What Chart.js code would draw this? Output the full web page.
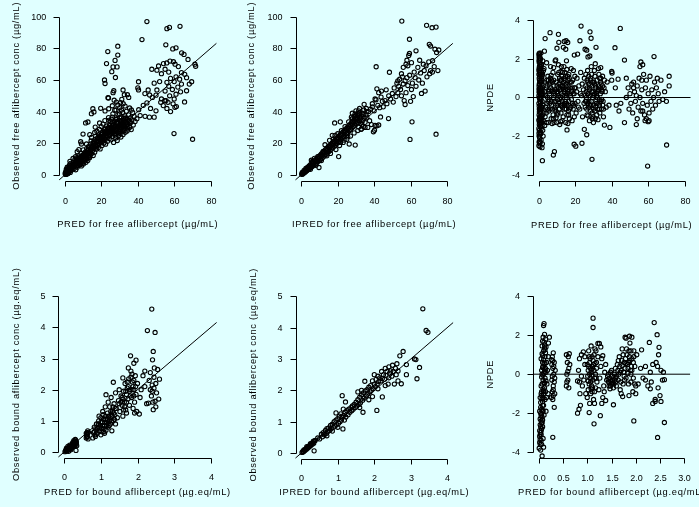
<!DOCTYPE html>
<html>
<head>
<meta charset="utf-8">
<script src="https://cdn.jsdelivr.net/npm/chart.js@4.4.1/dist/chart.umd.min.js"></script>
<style>
  body { margin: 0; background: #e0ffff; }
  #wrap { position: relative; width: 699px; height: 507px; }
  canvas { position: absolute; left: 0; top: 0; }
</style>
</head>
<body>
<div id="wrap">
  <canvas id="p1" width="699" height="507"></canvas>
  <canvas id="p2" width="699" height="507"></canvas>
  <canvas id="p3" width="699" height="507"></canvas>
  <canvas id="p4" width="699" height="507"></canvas>
  <canvas id="p5" width="699" height="507"></canvas>
  <canvas id="p6" width="699" height="507"></canvas>
</div>
<script>
// ---- data ----
// free aflibercept: PRED vs observed
const freePredObs = [
  [0.2,0.3],[0.3,0.8],[0.5,0.2],[0.6,1.2],[0.8,0.5],[0.9,1.8],[1.0,2.6],[1.1,0.9],[1.3,1.5],[1.4,3.2],[1.5,0.6],[1.6,2.2],[1.8,4.1],[1.9,1.2],[2.0,2.9],[2.1,5.0],[2.2,1.8],[2.4,3.6],[2.5,6.2],[2.6,2.4],[2.8,4.4],[2.9,1.5],[3.0,3.1],[0.4,2.0],[0.7,3.5],[1.2,4.8],[0.1,1.0],[3.1,7.2],[3.2,5.3],[2.7,8.5],
  [3.5,2.8],[3.8,4.6],[4.0,6.5],[4.2,3.5],[4.5,8.0],[4.7,5.2],[5.0,4.0],[5.2,7.1],[5.4,9.5],[5.6,5.8],[5.9,3.2],[6.1,8.4],[6.3,6.2],[6.5,10.8],[6.7,4.8],[6.9,7.6],[7.1,9.2],[7.3,5.9],[7.5,12.0],[7.7,8.1],[7.9,6.6],[6.7,14.6],[5.8,11.5],[4.4,10.3],
  [8.1,9.8],[8.3,6.4],[8.5,11.2],[8.6,7.8],[8.8,13.5],[9.0,5.6],[9.1,9.0],[9.3,10.6],[9.5,7.2],[9.6,12.4],[9.8,8.3],[10.0,15.8],[10.1,6.8],[10.3,10.1],[10.5,11.9],[10.7,8.8],[10.9,14.2],[11.1,9.6],[11.3,12.8],[11.5,7.9],[11.7,11.0],[11.9,16.6],[12.1,10.2],[12.3,13.4],[12.5,9.1],[12.7,12.0],[12.9,17.8],[13.0,11.3],[8.6,20.9],[9.9,25.8],[11.3,32.8],[12.6,33.4],[9.0,19.5],[11.8,19.5],[7.6,15.9],
  [13.3,14.5],[13.5,10.8],[13.7,18.2],[13.9,12.6],[14.1,16.0],[14.3,21.4],[14.5,13.3],[14.7,17.5],[14.5,23.7],[15.1,15.2],[15.4,19.5],[15.5,12.2],[15.7,20.8],[16.3,26.8],[16.1,17.0],[16.3,14.3],[16.5,22.2],[16.7,18.8],[16.9,24.5],[17.1,16.2],[17.3,20.4],[17.5,27.6],[17.7,19.0],[17.9,23.0],[14.5,38.7],[15.9,39.8],[15.3,41.8],[13.6,25.4],[16.6,30.2],
  [18.1,21.5],[18.3,17.2],[18.5,25.3],[18.7,19.6],[18.9,28.8],[19.1,22.7],[19.3,16.4],[19.5,24.1],[19.6,42.1],[19.7,20.3],[19.9,30.5],[20.1,23.4],[20.3,18.6],[20.5,26.7],[20.7,21.9],[20.9,32.1],[21.1,24.8],[21.3,20.0],[21.5,28.4],[21.7,22.6],[21.9,34.3],[22.1,25.9],[22.3,19.4],[22.5,27.2],[22.7,23.8],[22.9,30.9],[23.1,26.3],[23.3,21.2],[23.5,29.5],[23.7,24.5],[23.9,36.2],[24.1,27.8],[24.3,22.9],[24.5,31.6],[24.7,25.7],[24.9,33.8],[23.6,48.8],[22.0,40.4],[19.0,32.8],[24.0,41.8],
  [25.1,28.5],[25.3,22.1],[25.5,35.2],[25.7,26.0],[25.9,31.3],[26.1,24.2],[26.3,38.6],[26.4,52.0],[26.5,29.1],[26.7,20.5],[26.9,33.4],[27.1,27.2],[27.3,40.9],[27.5,25.1],[27.7,30.6],[27.9,23.3],[28.1,36.0],[28.3,28.0],[28.5,32.7],[28.7,21.7],[28.9,26.6],[29.1,38.1],[29.3,30.0],[29.5,24.8],[29.7,34.5],[29.9,28.9],[30.1,42.5],[30.3,26.1],[30.5,31.8],[30.7,23.9],[30.9,36.7],[31.1,29.6],[31.3,33.1],[31.5,27.3],[31.7,39.4],[31.9,53.7],[31.9,25.5],[32.1,31.0],[32.3,35.8],[32.5,28.2],[32.6,50.7],[32.7,30.3],[32.9,37.3],[33.1,26.9],[33.3,33.9],[33.5,29.4],[33.7,40.2],[33.9,31.5],[34.1,27.7],[34.3,35.0],[34.3,50.7],[34.5,32.2],[34.7,29.0],[34.9,37.9],[35.0,49.0],[35.3,33.6],[35.6,30.1],[36.0,36.1],[36.4,28.6],[36.8,34.7],[37.2,39.5],[38.0,36.9],[28.2,46.0],[29.0,44.2],[30.5,45.6],[31.2,47.8],[33.0,43.5],[26.0,43.7],[27.0,47.2],[32.0,45.0],[35.5,42.3],[36.5,41.0],[37.5,31.5],[38.5,33.8],[39.5,35.5],[40.0,55.0],[40.4,58.9],[40.4,53.7],
  [20.0,25.5],[21.0,27.5],[22.0,29.0],[23.0,28.0],[24.0,30.0],[25.0,26.5],[26.0,33.0],[27.0,30.0],[28.0,31.0],[29.0,33.0],[30.0,30.0],[31.0,34.0],[32.0,33.0],[33.0,31.0],[34.0,33.0],[26.5,27.0],[28.5,29.5],[30.5,28.5],[32.5,31.5],[29.5,27.0],[31.5,30.5],[27.5,34.0],[25.5,30.0],[24.5,27.0],[23.0,25.0],[22.0,22.0],[21.0,23.5],[19.0,24.5],[18.0,23.5],[17.0,21.5],[16.0,20.0],[15.0,18.0],[14.0,19.5],[13.0,16.0],[12.0,14.5],[11.0,13.5],[10.0,12.0],[9.0,11.5],[8.0,10.5],[7.0,10.0],[6.0,7.0],[5.0,6.5],[4.0,5.0],[3.0,4.8],[2.0,3.8],[1.0,1.5],[0.5,0.9],[30.0,38.5],[28.0,41.0],[33.5,36.0],[35.0,34.5],[36.0,33.0],[31.0,41.0],[26.0,36.5],[24.0,34.5],
  [1.5,1.8],[2.5,3.5],[3.5,4.0],[4.5,6.0],[5.5,7.5],[6.5,8.0],[7.5,9.5],[8.5,9.0],[9.5,10.5],[10.5,13.0],[11.5,12.5],[12.5,15.5],[13.5,14.0],[14.5,17.0],[15.5,16.5],[16.5,19.0],[17.5,18.0],[18.5,21.0],[19.5,22.0],[20.5,21.0],[21.5,25.0],[22.5,24.5],[23.5,27.0],[24.5,25.0],[25.5,28.0],[26.5,31.5],[27.5,28.5],[28.5,33.5],[29.5,31.0],[30.5,34.0],[31.5,32.0],[32.5,34.5],[33.5,33.0],[34.5,30.5],[28.0,26.0],[30.0,27.5],[32.0,29.0],[26.0,29.0],[27.0,26.0],[29.0,29.5],[31.0,31.5],[33.0,35.5],[28.0,35.0],[30.0,36.0],[24.0,29.0],[22.0,26.5],[20.0,22.5],[18.0,19.0],[16.0,18.0],[14.0,15.0],[12.0,12.0],[10.0,10.0],[8.0,8.5],[6.0,9.0],
  [45.0,97.0],[42.3,85.6],[29.0,81.4],[23.5,78.0],[29.0,75.8],[27.5,72.4],[22.8,70.4],[26.4,68.3],[28.6,68.3],[25.7,65.3],[27.7,61.6],[21.7,60.0],[22.0,57.8],[26.8,53.2],[23.9,48.6],
  [56.0,92.5],[57.4,93.3],[63.2,94.0],[55.4,82.3],[59.2,79.7],[61.0,80.4],[64.1,77.2],[65.4,76.2],[67.6,73.0],[57.7,72.0],[54.1,70.4],[55.9,70.8],[59.6,71.6],[60.5,70.0],[62.3,68.5],[71.4,70.0],[71.8,68.7],[51.4,68.9],[47.7,66.8],[50.5,66.2],[55.0,66.8],[57.0,65.0],[53.0,64.0],[64.0,64.7],[65.8,63.6],[66.8,61.5],[61.0,62.0],[63.0,60.5],[58.0,61.0],[60.0,59.0],[56.0,58.5],[52.0,59.0],[49.0,58.0],[64.0,57.4],[69.6,58.9],[66.8,53.2],[68.3,57.4],[62.0,55.5],[59.0,54.0],[57.0,56.0],[55.0,53.0],[50.5,53.7],[45.7,53.7],[43.9,51.4],[46.5,50.5],[48.0,49.0],[50.0,50.4],[53.0,48.0],[55.5,47.0],[52.6,45.9],[54.8,46.9],[56.6,45.9],[59.4,44.9],[61.2,43.2],[65.7,46.1],[60.4,42.7],[54.0,43.8],[56.0,42.0],[58.0,40.0],[50.0,40.5],[61.0,51.0],[63.5,52.5],[59.9,26.1],[70.1,22.5],[49.0,36.5],[46.4,36.5],[44.0,37.0],[41.3,37.5],[40.5,41.2],[43.0,44.0],[45.0,45.5],[47.0,42.0],[57.5,50.0],[60.0,48.0]
];
// free aflibercept: IPRED vs observed
const freeIpredObs = [
  [0.2,0.3],[0.4,0.7],[0.6,0.4],[0.8,1.1],[1.0,0.8],[1.2,1.6],[1.4,1.2],[1.6,2.0],[1.8,1.5],[2.0,2.5],[2.2,1.9],[2.4,3.0],[2.6,2.2],[2.8,3.4],[3.0,2.7],[0.5,1.5],[1.5,2.8],[2.5,4.0],[3.2,4.3],[3.4,3.1],
  [3.6,4.9],[3.8,3.3],[4.0,4.4],[4.3,5.6],[4.5,3.9],[4.8,5.1],[5.0,6.4],[5.3,4.6],[5.5,5.9],[5.8,7.3],[6.0,5.3],[6.3,6.8],[6.5,8.1],[6.8,6.0],[7.0,7.6],[7.3,9.0],[7.5,6.7],[7.8,8.3],[8.0,9.8],[8.3,7.4],[8.5,9.1],[8.8,10.6],[9.0,8.2],[9.3,9.9],[9.5,11.4],[9.7,4.6],[9.8,8.9],[10.0,10.8],[5.5,9.2],[7.2,10.4],
  [10.3,12.3],[10.5,9.6],[10.8,11.5],[11.0,13.2],[11.3,10.4],[11.5,12.4],[11.8,14.1],[12.0,11.2],[12.3,13.3],[12.5,15.0],[12.8,12.0],[13.0,14.2],[13.3,15.9],[13.5,12.9],[13.8,15.1],[14.0,16.8],[14.3,13.8],[14.5,16.0],[14.8,17.6],[15.0,14.6],[15.3,16.9],[15.5,18.5],[15.8,15.4],[16.0,17.7],[16.3,19.4],[16.5,16.3],[16.8,18.6],[17.0,25.0],[17.0,20.2],[17.3,17.1],[17.5,19.5],[17.8,21.1],[18.0,18.0],[18.3,20.4],[18.3,32.8],[18.5,22.0],[18.8,18.9],[19.0,21.2],[19.3,22.9],[19.5,19.8],[19.8,22.1],[20.0,23.8],[20.5,11.5],[18.5,25.0],[15.5,21.8],[13.0,19.0],
  [20.3,20.7],[20.5,23.0],[20.8,24.6],[21.0,21.6],[21.3,23.9],[21.4,33.5],[21.5,25.5],[21.8,22.5],[22.0,24.8],[22.3,26.4],[22.5,23.4],[22.8,25.7],[23.0,27.3],[23.3,24.3],[23.5,26.6],[23.8,28.2],[24.0,25.2],[24.3,27.5],[24.5,29.1],[24.8,26.1],[25.0,28.4],[25.3,30.0],[25.5,27.0],[25.8,29.3],[26.0,31.0],[26.3,19.5],[26.3,27.9],[26.5,30.2],[26.8,31.9],[27.0,28.8],[27.3,31.1],[27.5,32.8],[27.8,29.7],[28.0,32.0],[28.3,33.8],[28.5,30.6],[28.8,32.9],[29.0,34.7],[29.3,31.5],[29.6,18.8],[29.5,33.8],[29.8,35.6],[30.0,32.4],[30.3,34.7],[30.5,36.5],[30.8,33.3],[31.0,38.7],[31.0,35.6],[31.3,37.4],[31.5,30.2],[31.8,34.2],[32.0,36.5],[32.3,32.6],[32.5,35.4],[32.8,28.8],[33.0,37.2],[33.3,31.6],[33.5,39.0],[33.8,34.4],[34.0,30.6],[34.3,41.0],[34.5,36.0],[35.0,33.2],[35.5,38.0],[28.0,39.0],[29.0,37.0],[30.0,40.5],[32.0,42.0],[34.5,44.6],[35.7,42.0],[36.0,36.5],[36.5,30.0],[37.0,40.0],[37.5,34.2],[38.0,41.5],[38.5,31.8],[39.0,43.0],[39.6,27.2],[40.2,28.2],[40.5,31.2],[41.5,31.0],[42.5,31.5],
  [5.0,3.5],[6.0,8.5],[8.0,6.0],[9.0,11.5],[11.0,9.0],[12.0,14.8],[14.0,12.0],[15.0,18.0],[16.0,13.5],[17.5,22.5],[19.0,16.0],[20.0,26.0],[21.0,18.5],[22.0,28.0],[23.0,20.5],[24.0,30.5],[25.0,22.5],[26.0,33.5],[27.0,24.5],[28.0,35.5],[29.0,26.5],[30.0,37.5],[31.0,28.0],[32.0,39.0],[33.0,29.0],[34.0,38.0],[35.0,30.0],[36.0,40.0],[27.5,36.5],[29.5,38.5],[31.5,40.5],[25.5,24.0],[23.5,22.0],[21.5,20.5],
  [39.0,45.0],[40.0,40.5],[41.0,47.5],[41.5,54.4],[41.1,68.4],[42.0,44.0],[43.0,42.5],[43.8,49.2],[44.5,46.5],[45.0,43.0],[46.0,47.0],[46.6,53.8],[47.0,45.0],[47.9,35.6],[48.4,64.9],[48.0,50.0],[49.0,48.0],[50.0,51.5],[43.5,36.6],[40.5,48.0],[42.5,52.0],[44.0,53.0],
  [50.5,46.0],[51.0,55.0],[52.0,49.5],[52.5,58.0],[53.0,52.0],[53.5,56.0],[54.0,60.5],[54.5,54.0],[55.0,50.0],[55.2,97.3],[55.5,62.0],[56.0,57.5],[56.5,47.0],[57.0,59.5],[57.5,52.0],[58.0,61.5],[58.5,56.5],[59.4,85.8],[59.4,76.8],[59.0,75.5],[59.7,22.4],[60.8,33.5],[60.0,46.5],[59.5,63.0],[61.0,58.0],[61.5,49.5],[62.0,65.0],[63.0,78.5],[57.5,70.0],[58.5,69.0],[60.5,71.0],[56.0,68.0],[58.0,72.5],[53.0,59.5],[55.0,64.0],[57.0,44.5],[60.5,54.0],
  [63.0,56.0],[64.0,68.0],[64.5,60.0],[65.0,72.5],[65.5,64.5],[66.0,51.5],[67.0,70.0],[67.5,66.0],[68.0,53.0],[68.5,69.0],[68.8,94.6],[69.0,62.0],[70.0,71.5],[70.3,82.6],[71.0,81.5],[71.0,66.0],[71.8,93.1],[72.0,65.0],[72.1,72.2],[73.0,68.5],[73.4,79.5],[74.0,93.5],[74.0,25.7],[74.3,77.4],[75.0,66.0],[75.5,79.0],[66.5,58.0],[62.5,61.5],[70.5,64.0]
];
// free aflibercept: PRED vs NPDE
const freePredNpde = [
  [0.1,-2.5],[0.2,-2.0],[0.3,-1.7],[0.4,-1.3],[0.2,-0.9],[0.5,-0.6],[0.1,-0.3],[0.3,0.0],[0.6,0.3],[0.2,0.6],[0.4,0.9],[0.1,1.2],[0.5,1.5],[0.3,1.8],[0.2,2.1],[0.4,2.3],[0.8,-2.3],[0.9,-1.9],[1.0,-1.5],[0.7,-1.1],[1.1,-0.8],[0.8,-0.4],[1.2,-0.1],[0.9,0.2],[1.0,0.5],[0.7,0.8],[1.3,1.1],[0.8,1.4],[1.1,1.7],[1.0,2.0],[1.4,-1.6],[1.6,-1.2],[1.5,-0.5],[1.7,0.1],[1.4,0.4],[1.8,0.7],[1.5,1.0],[1.6,1.3],[1.9,-0.2],[2.0,-0.9],[2.1,0.5],[2.2,1.9],[1.8,-2.6],[2.0,-2.4],[1.3,-2.2],[0.6,-1.8],[0.3,-1.4],[0.6,-0.2],[0.4,0.4],[0.5,1.1],[0.7,1.6],[1.2,2.3],[0.9,-1.0],[1.1,0.0],[1.7,-0.6],[2.3,-0.4],[2.4,0.2],[2.5,-1.2],[2.6,1.4],[2.8,-0.8],[0.7,-2.55],[2.0,-3.27],[0.2,1.5],[0.5,-2.1],
  [0.15,-1.15],[0.35,-0.75],[0.25,-0.45],[0.45,-0.05],[0.35,0.25],[0.15,0.45],[0.55,0.7],[0.25,1.0],[0.45,1.3],[0.35,1.6],[0.15,1.9],[0.6,2.1],[0.15,-1.85],[0.45,-2.3],[0.85,-1.35],[0.95,-0.6],[1.05,-0.25],[1.25,0.3],[1.15,0.8],[0.95,1.2],[1.35,1.5],[1.45,-0.95],[1.25,-1.85],[1.65,0.45],[1.85,-1.45],[1.55,1.7],[2.2,-1.7],[2.4,-2.0],[2.1,1.2],[1.9,0.3],
  [0.1,-1.6],[0.2,-1.2],[0.3,-0.6],[0.1,0.1],[0.2,0.3],[0.3,0.7],[0.1,1.4],[0.3,2.0],[0.5,-1.0],[0.6,0.0],[0.7,0.5],[0.6,1.3],[0.8,1.8],[0.9,-0.7],[1.0,-1.2],[1.1,0.3],[1.2,0.9],[1.3,-0.5],[1.4,-1.3],[1.5,0.2],[1.6,0.8],[1.7,-1.0],[1.8,1.1],[1.9,-0.5],[2.0,0.1],[0.4,-2.0],[0.2,-2.3],[0.6,-2.4],[0.3,2.2],[0.1,2.25],
  [3.1,2.4],[3.5,3.05],[6.2,3.36],[10.8,3.27],[11.0,2.86],[15.0,2.94],[15.9,2.85],[22.6,2.94],[23.2,3.7],[28.1,3.4],[28.7,3.07],[31.4,2.6],[41.8,2.58],[44.7,3.58],[25.4,2.5],[26.3,2.45],[10.0,2.55],[13.5,2.6],[14.8,2.5],[19.5,2.2],[21.3,2.25],[27.0,2.1],[28.0,2.15],[63.2,2.12],[47.0,1.94],[56.0,1.84],[57.0,1.7],[55.5,1.6],
  [8.6,-2.8],[8.0,-2.98],[19.4,-2.42],[20.3,-2.52],[23.7,-2.37],[26.3,-1.93],[25.0,-1.65],[29.2,-3.2],[59.7,-3.55],[70.1,-2.46],[36.0,-1.43],[39.0,-1.55],[15.5,-1.68],[47.0,-1.3],[53.5,-1.4],[60.0,-1.25],[59.0,-1.1],
  [3.5,-1.0],[4.0,0.5],[4.5,-0.3],[5.0,1.1],[5.5,-0.7],[6.0,0.2],[6.5,1.6],[7.0,-0.4],[7.5,0.8],[8.0,-1.1],[8.5,0.3],[9.0,1.9],[9.5,-0.2],[10.0,0.6],[10.5,-0.8],[11.0,1.3],[11.5,-1.4],[12.0,0.0],[12.5,0.9],[13.0,-0.5],[13.5,0.4],[14.0,1.0],[14.5,-0.2],[15.0,0.7],[15.5,-0.9],[16.0,0.3],[16.5,1.2],[17.0,-0.6],[17.5,0.1],[18.0,0.8],[18.5,-0.3],[19.0,1.4],[19.5,-1.0],[20.0,0.5],[4.3,1.8],[5.2,-1.3],[6.8,-1.1],[7.8,1.3],[8.8,-0.6],[9.8,-1.3],[10.8,1.7],[11.8,0.4],[12.8,-1.2],[13.8,1.6],[14.8,-1.3],[15.8,1.1],[16.8,-1.1],[17.8,1.5],[18.8,0.2],[12.2,-0.8],[13.2,0.6],[14.2,-0.6],[15.2,0.1],[16.2,-0.4],[14.5,0.9],[13.0,1.3],[15.0,-0.4],[11.0,-0.3],[10.2,0.2],[9.0,-0.5],[8.2,0.9],[7.2,0.3],[6.2,-0.6],[5.8,0.7],[4.8,0.0],[3.8,-0.5],[3.2,0.8],[2.9,1.5],[20.5,-0.8],[21.0,1.0],[21.5,-0.2],[22.0,0.6],[22.5,-0.6],[23.0,1.3],[23.5,0.1],[24.0,-1.0],[24.5,0.4],[25.0,1.0],[9.3,1.95],[8.2,1.55],[6.8,1.15],[14.0,2.9],[15.2,1.9],[12.2,1.35],[7.3,-1.35],[9.5,-1.05],
  [3.4,0.3],[4.1,-0.8],[4.6,0.6],[5.1,-0.2],[5.6,0.4],[6.1,-0.3],[6.6,0.5],[7.1,0.9],[7.6,-0.6],[8.1,0.0],[8.6,-0.2],[9.1,0.4],[9.6,0.8],[10.1,-0.4],[10.6,0.3],[11.1,0.7],[11.6,-0.1],[12.1,0.6],[12.6,-0.4],[13.1,0.1],[13.6,0.8],[14.1,-0.3],[14.6,0.4],[15.1,-0.6],[15.6,0.2],[16.1,0.9],[16.6,-0.2],[17.1,0.5],[17.6,-0.5],[18.1,0.3],[18.6,0.9],[19.1,-0.4],[19.6,0.5],[13.4,-1.0],[14.3,1.3],[15.4,1.45],[16.4,-0.9],[11.4,1.0],[12.4,1.6],[10.4,1.2],[8.4,-1.3],[6.4,1.0],[5.4,0.9],[4.2,-1.3],[3.3,-1.45],[12.0,-1.25],[16.0,-1.35],[18.3,-1.2],[19.8,1.1],[20.8,0.3],[21.8,-0.5],[22.8,0.2],[23.8,0.7],[24.8,-0.3],
  [3.7,0.1],[4.4,0.9],[4.9,-0.6],[5.3,0.3],[5.7,-0.1],[6.3,0.8],[6.9,-0.2],[7.4,0.4],[7.9,-0.9],[8.3,0.6],[8.9,0.1],[9.4,-0.7],[9.9,0.3],[10.3,-0.1],[10.9,0.5],[11.3,-0.6],[11.9,0.9],[12.3,0.2],[12.9,-0.2],[13.3,0.5],[13.9,-0.4],[14.4,0.1],[14.9,0.6],[15.3,-0.3],[15.9,0.4],[16.3,-0.7],[16.9,0.2],[17.3,0.8],[17.9,-0.1],[18.4,0.5],[18.9,-0.6],[19.4,0.2],[19.9,-0.3],[14.0,0.3],[15.0,0.0],[16.0,0.6],[13.0,0.6],[12.0,-0.4],[11.0,0.1],[10.0,-0.9],[14.7,1.1],[16.7,1.0],[12.7,1.1],
  [25.5,-0.5],[26.0,0.3],[26.5,-0.9],[27.0,0.8],[27.5,-0.2],[28.0,0.5],[28.5,-0.7],[29.0,1.2],[29.5,0.0],[30.0,-0.4],[30.5,0.7],[31.0,-1.1],[31.5,0.2],[32.0,0.9],[32.5,-0.3],[33.0,0.4],[33.5,-0.8],[34.0,1.0],[34.5,-0.1],[35.0,0.6],[35.5,-0.6],[26.2,-0.2],[27.2,0.2],[28.2,-0.4],[29.2,0.6],[30.2,0.1],[31.2,-0.5],[32.2,0.3],[33.2,-0.1],[34.2,0.7],[30.8,1.1],[29.8,-1.0],[31.8,-0.9],[33.8,0.2],[32.8,1.5],[28.8,1.6],[27.8,-1.2],[26.8,1.4],[36.5,0.3],[37.0,-0.5],[37.5,0.8],[38.5,-0.4],[40.0,0.9],[40.2,1.27],[40.0,1.35],[42.0,0.5],[42.5,-0.4],[43.5,0.95],[45.0,-0.3],[44.0,-0.7],[31.0,1.75],[34.0,1.55],[25.8,1.2],[35.5,-1.0],[36.0,0.9],
  [25.3,0.1],[25.8,0.6],[26.3,-0.6],[26.8,0.2],[27.3,-0.5],[27.8,0.4],[28.3,0.9],[28.8,-0.2],[29.3,-0.8],[29.8,0.3],[30.3,0.8],[30.8,-0.7],[31.3,0.5],[31.8,0.1],[32.3,-0.6],[32.8,0.6],[33.3,-0.4],[33.8,0.8],[34.3,-0.6],[34.8,0.3],[35.3,-0.2],[35.8,0.5],[30.0,-1.3],[32.5,-1.15],[27.0,-0.95],[33.0,1.2],[35.0,1.1],[28.5,1.0],[30.5,1.4],[26.5,0.9],
  [25.6,-0.2],[26.1,0.0],[26.6,0.5],[27.1,-0.3],[27.6,0.7],[28.1,0.1],[28.6,-0.4],[29.1,0.3],[29.6,0.8],[30.1,-0.6],[30.6,0.2],[31.1,0.6],[31.6,-0.3],[32.1,0.0],[32.6,0.4],[33.1,-0.6],[33.6,0.5],[34.1,-0.2],[34.6,0.4],[35.1,-0.4],[27.4,1.1],[29.4,-1.1],[31.4,-0.2],[33.4,1.0],
  [48.0,0.0],[49.0,0.5],[49.5,-0.6],[50.0,0.2],[50.5,-0.3],[51.0,0.7],[51.5,-0.8],[52.0,0.8],[52.5,0.3],[53.0,-0.2],[53.5,0.1],[54.0,0.6],[54.5,-0.5],[55.0,1.0],[55.5,0.0],[56.0,-0.7],[56.5,0.4],[57.0,-0.3],[57.5,1.2],[58.0,-0.9],[58.5,0.5],[59.0,0.9],[59.5,-0.4],[60.0,0.2],[60.5,-0.8],[61.0,1.1],[61.5,-0.2],[62.0,0.4],[62.5,-0.6],[63.0,0.0],[63.5,0.8],[64.0,-0.4],[65.0,1.0],[65.5,0.2],[66.0,-0.2],[67.0,0.9],[68.0,-0.1],[69.0,0.3],[70.0,-0.2],[71.5,0.6],[71.5,1.1],[54.0,-1.1],[57.0,-0.7],[58.3,-1.2],[60.5,-1.2],[48.0,1.0],[52.0,0.5],[56.5,0.9],[64.5,0.5]
];
// bound aflibercept: PRED vs observed
const boundPredObs = [
  [0.02,0.01],[0.04,0.05],[0.05,0.02],[0.07,0.08],[0.08,0.04],[0.1,0.1],[0.11,0.06],[0.12,0.13],[0.14,0.09],[0.15,0.16],[0.16,0.11],[0.18,0.19],[0.19,0.14],[0.2,0.22],[0.21,0.17],[0.22,0.25],[0.24,0.2],[0.25,0.28],[0.26,0.23],[0.27,0.32],[0.28,0.26],[0.29,0.35],[0.3,0.29],[0.31,0.38],[0.32,0.24],[0.33,0.33],[0.3,0.4],[0.26,0.36],[0.23,0.3],[0.2,0.12],[0.15,0.22],[0.1,0.18],[0.06,0.12],[0.32,0.05],[0.28,0.18],[0.34,0.2],[0.18,0.07],[0.12,0.02],
  [0.05,0.07],[0.09,0.11],[0.13,0.15],[0.17,0.14],[0.21,0.21],[0.25,0.2],[0.29,0.31],[0.33,0.28],
  [0.6,0.45],[0.61,0.55],[0.62,0.62],[0.63,0.5],[0.64,0.68],[0.6,0.6],[0.65,0.42],[0.62,0.48],[0.63,0.58],[0.66,0.63],
  [0.78,0.45],[0.8,0.62],[0.82,0.8],[0.84,0.55],[0.86,0.72],[0.88,0.9],[0.9,0.6],[0.92,0.78],[0.94,1.0],[0.96,0.68],[0.98,0.86],[1.0,1.1],[1.0,0.55],[1.02,0.75],[1.04,0.95],[1.06,1.2],[1.08,0.65],[1.1,0.85],[1.12,1.05],[1.14,1.84],[1.14,0.7],[1.16,0.95],[1.18,1.25],[1.2,0.8],[1.22,1.0],[1.24,1.45],[1.26,0.9],[1.28,1.15],[1.3,0.68],[1.32,1.3],[1.34,2.24],[1.34,1.0],[1.36,1.55],[1.38,1.2],[1.4,1.9],[1.4,0.9],[1.05,1.3],[1.12,1.45],[1.2,1.6],[1.28,1.75],[0.95,1.15],[1.1,0.6],[0.85,0.5],
  [0.82,0.65],[0.87,0.58],[0.9,0.75],[0.93,0.9],[0.97,0.8],[1.0,0.95],[1.03,0.65],[1.05,0.85],[1.07,1.05],[1.09,0.75],[1.11,0.95],[1.13,1.15],[1.15,0.85],[1.17,1.05],[1.19,0.9],[1.21,1.15],[1.23,0.85],[1.25,1.1],[1.27,1.3],[1.29,1.0],[1.31,1.15],[1.33,1.45],[1.35,1.25],[1.37,1.05],[1.39,1.4],
  [1.42,1.4],[1.45,1.1],[1.48,1.65],[1.5,2.0],[1.52,1.3],[1.55,1.8],[1.58,1.5],[1.6,2.38],[1.6,1.15],[1.62,1.95],[1.64,1.6],[1.66,2.2],[1.68,1.35],[1.7,1.85],[1.7,1.25],[1.72,2.05],[1.74,1.7],[1.75,2.7],[1.76,2.35],[1.78,1.5],[1.8,2.0],[1.81,3.09],[1.82,2.6],[1.84,1.75],[1.86,2.25],[1.88,1.4],[1.9,2.85],[1.9,2.0],[1.92,1.6],[1.94,2.45],[1.96,2.95],[1.96,1.85],[1.98,1.3],[2.0,2.2],[1.85,2.5],[1.88,2.1],[1.78,1.95],[1.65,1.45],[1.55,1.6],[1.92,1.25],[1.5,1.55],
  [1.6,1.7],[1.7,1.6],[1.75,2.1],[1.8,1.8],[1.85,2.0],[1.9,2.3],[1.95,2.1],[1.72,2.25],[1.82,2.4],[1.9,1.8],[1.68,1.95],[1.58,1.75],[1.62,1.35],
  [2.05,1.22],[2.07,1.75],[2.1,2.0],[2.15,2.45],[2.2,2.1],[2.25,1.55],[2.27,3.9],[2.3,1.57],[2.32,2.3],[2.35,2.55],[2.38,1.8],[2.39,4.59],[2.4,2.15],[2.41,2.96],[2.42,1.6],[2.43,3.23],[2.43,1.36],[2.45,2.4],[2.46,2.7],[2.48,3.84],[2.48,1.63],[2.5,2.2],[2.52,1.9],[2.55,2.65],[2.58,1.7],[2.6,2.34],[2.45,2.05],[2.35,2.0],[2.2,2.6],[2.5,1.45],[2.4,1.95]
];
// bound aflibercept: IPRED vs observed
const boundIpredObs = [
  [0.02,0.02],[0.04,0.05],[0.06,0.04],[0.08,0.09],[0.1,0.08],[0.12,0.13],[0.14,0.12],[0.16,0.17],[0.18,0.16],[0.2,0.21],[0.22,0.2],[0.24,0.26],[0.26,0.24],[0.28,0.3],[0.3,0.28],[0.32,0.34],[0.34,0.31],[0.36,0.38],[0.35,0.07],[0.07,0.1],[0.15,0.2],[0.25,0.3],[0.33,0.38],[0.38,0.4],
  [0.45,0.48],[0.5,0.45],[0.55,0.6],[0.58,0.52],[0.6,0.65],[0.63,0.58],[0.66,0.72],[0.68,0.62],[0.7,0.78],[0.72,0.68],[0.75,0.8],[0.78,0.72],[0.8,0.88],[0.82,0.78],[0.85,0.92],[0.88,0.82],[0.9,1.0],[0.92,0.86],[0.95,1.05],[0.97,0.9],[1.0,1.1],[1.02,0.95],[1.04,1.18],[1.06,1.0],[1.08,1.25],[1.1,1.05],[1.12,1.83],[1.12,1.15],[1.14,0.77],[1.16,1.2],[1.18,1.05],[1.2,1.3],[1.21,1.63],[1.22,1.15],[1.25,1.35],[1.28,1.22],[1.3,1.4],[1.33,1.3],[1.36,1.45],[1.38,1.35],[1.4,1.5],[0.95,1.28],[1.0,0.82],[0.85,0.7],[0.7,0.55],[1.15,1.4],
  [1.42,1.4],[1.45,1.55],[1.48,1.45],[1.5,1.62],[1.52,1.5],[1.55,1.7],[1.58,1.55],[1.6,1.78],[1.62,1.6],[1.65,1.85],[1.68,1.68],[1.69,1.3],[1.7,1.92],[1.72,1.75],[1.74,2.29],[1.75,1.98],[1.78,1.82],[1.8,2.02],[1.82,1.88],[1.85,2.1],[1.88,1.95],[1.9,2.15],[1.92,2.0],[1.95,2.3],[1.97,2.05],[2.0,2.5],[2.0,2.2],[1.6,1.45],[1.65,2.0],[1.85,1.7],[1.55,1.95],[1.95,1.8],
  [2.03,2.12],[2.05,2.35],[2.07,1.36],[2.08,2.2],[2.1,2.45],[2.12,2.28],[2.15,2.4],[2.18,2.3],[2.2,2.6],[2.22,1.79],[2.22,2.38],[2.25,2.5],[2.28,2.35],[2.3,2.7],[2.32,2.48],[2.35,2.6],[2.38,2.2],[2.4,2.75],[2.42,2.55],[2.45,2.62],[2.48,2.45],[2.5,2.8],[2.52,2.6],[2.55,2.2],[2.58,2.7],[2.6,2.5],[2.62,2.85],[2.65,2.62],[2.7,3.1],[2.74,2.21],[2.79,3.24],[2.88,2.82],[2.88,2.5],[3.1,3.0],[3.14,2.98],[3.24,2.73],[3.17,2.37],[3.33,4.6],[3.42,3.91],[3.47,3.85],[2.65,2.3],[2.3,2.15],[2.4,2.4],[2.1,2.05]
];
// bound aflibercept: PRED vs NPDE
const boundPredNpde = [
  [0.01,-3.8],[0.03,-3.6],[0.05,-3.4],[0.02,-3.2],[0.04,-3.0],[0.06,-2.8],[0.03,-2.6],[0.05,-2.4],[0.07,-2.2],[0.04,-2.0],[0.06,-1.8],[0.08,-1.6],[0.02,-2.9],[0.05,-3.1],[0.07,-2.5],[0.03,-2.3],[0.06,-2.05],[0.07,-4.2],[0.1,-3.75],[0.09,-3.3],[0.08,-2.7],[0.02,-1.9],[0.09,-1.9],[0.11,-2.1],[0.15,-1.9],[0.04,-3.9],
  [0.02,-3.5],[0.06,-3.6],[0.04,-2.7],[0.08,-2.35],[0.05,-2.15],[0.03,-3.35],
  [0.04,-1.7],[0.06,-2.5],[0.05,-2.9],[0.03,-3.1],[0.08,-1.85],[0.09,-1.2],
  [0.03,-1.2],[0.06,-0.9],[0.08,-1.4],[0.1,-1.0],[0.05,-0.6],[0.09,-0.3],[0.12,-0.7],[0.07,0.0],[0.11,0.3],[0.08,0.6],[0.13,0.9],[0.1,1.2],[0.12,1.5],[0.14,1.8],[0.1,2.5],[0.11,2.6],[0.12,2.05],[0.15,0.1],[0.13,-0.2],[0.06,-1.1],[0.09,0.4],[0.14,1.1],[0.13,-1.3],[0.16,0.6],[0.17,-0.5],[0.18,0.2],[0.15,1.4],[0.2,1.6],[0.22,1.9],[0.2,0.9],[0.19,-1.0],[0.05,0.8],[0.08,1.7],[0.16,-1.2],
  [0.04,-1.45],[0.07,-1.25],[0.09,-0.75],[0.11,-0.45],[0.06,-0.15],[0.12,0.15],[0.08,0.35],[0.1,0.75],[0.07,1.05],[0.12,1.35],[0.09,1.9],[0.14,-0.9],[0.11,0.05],[0.13,0.55],[0.15,-0.35],[0.1,-1.6],
  [0.05,-1.0],[0.07,-0.5],[0.09,-0.05],[0.11,0.55],[0.13,1.25],[0.08,0.95],[0.06,0.2],[0.1,-0.85],[0.12,-0.45],[0.14,0.3],[0.07,1.45],[0.11,1.65],
  [0.26,-1.2],[0.28,-0.9],[0.3,-0.6],[0.27,-0.3],[0.31,0.0],[0.29,0.3],[0.32,0.6],[0.28,0.9],[0.3,1.1],[0.33,-1.0],[0.27,0.5],[0.32,-0.4],[0.29,-1.3],[0.34,0.2],[0.32,-1.7],[0.29,-3.24],[0.26,0.75],
  [0.3,-0.8],[0.28,-0.1],[0.31,0.4],[0.29,0.7],[0.33,-0.2],[0.3,-1.1],
  [0.57,-0.6],[0.6,-0.3],[0.58,0.0],[0.62,0.3],[0.59,0.6],[0.61,0.9],[0.63,1.05],[0.58,-0.4],[0.6,0.15],[0.62,-0.7],[0.57,1.0],[0.64,0.5],
  [0.8,-2.0],[0.83,-1.8],[0.86,-1.6],[0.85,-1.0],[0.8,-0.35],[0.82,0.2],[0.84,0.8],[0.88,1.0],[0.9,-0.6],[0.93,-0.3],[0.95,0.5],[0.92,1.15],[0.97,-1.0],[0.88,-0.1],[0.84,-0.4],[0.95,0.9],
  [1.0,-1.2],[1.02,-0.8],[1.04,-0.5],[1.06,-0.2],[1.08,0.1],[1.1,0.4],[1.12,0.7],[1.14,1.0],[1.16,1.3],[1.0,0.5],[1.02,0.2],[1.05,-1.5],[1.07,-1.0],[1.09,-0.6],[1.11,-0.3],[1.13,-1.3],[1.15,-0.9],[1.17,0.0],[1.19,0.6],[1.2,-0.4],[1.03,1.2],[1.08,1.45],[1.12,2.88],[1.12,2.4],[1.14,-2.55],[1.04,-1.97],[1.18,1.2],[1.06,0.8],[1.1,-0.05],[1.15,-1.5],
  [1.01,-0.1],[1.03,0.4],[1.05,0.0],[1.07,-0.4],[1.09,0.25],[1.11,-0.7],[1.13,0.5],[1.15,-0.2],[1.17,-0.7],[1.19,0.3],[1.05,0.6],[1.1,0.9],
  [1.02,-0.35],[1.06,0.3],[1.1,-0.9],[1.14,0.2],[1.18,-0.2],[1.04,0.9],[1.08,-0.75],[1.16,0.55],
  [1.22,1.58],[1.25,1.58],[1.24,-0.8],[1.26,-0.2],[1.28,0.4],[1.3,0.8],[1.27,-2.13],[1.32,-1.2],[1.34,-0.6],[1.36,0.1],[1.38,0.5],[1.3,-1.5],[1.28,1.4],[1.35,-0.9],[1.4,-0.3],[1.22,0.9],[1.32,0.95],[1.38,-1.35],
  [1.42,-0.1],[1.44,-0.4],[1.46,-0.2],[1.48,0.1],[1.5,-0.5],[1.52,-0.3],[1.54,-0.7],[1.56,0.0],[1.58,-0.4],[1.6,-0.6],[1.54,-1.57],[1.45,-0.6],[1.5,0.2],[1.58,0.3],[1.55,-0.15],[1.47,-0.75],
  [1.43,-0.25],[1.47,-0.45],[1.51,-0.1],[1.55,-0.5],[1.59,-0.2],[1.49,-0.35],[1.44,0.0],[1.48,-0.6],[1.52,-0.45],[1.56,-0.3],[1.6,-0.1],
  [1.62,0.5],[1.64,-0.3],[1.66,0.9],[1.68,-0.8],[1.7,0.2],[1.72,1.3],[1.74,-0.5],[1.76,0.6],[1.78,1.9],[1.8,-0.2],[1.82,1.0],[1.84,0.3],[1.86,-1.1],[1.88,1.6],[1.9,0.0],[1.92,0.8],[1.94,-0.9],[1.96,1.2],[1.98,0.4],[2.0,-0.6],[1.87,1.95],[1.8,1.85],[1.92,1.9],[1.96,-2.4],[1.73,-1.15],[1.85,0.6],[1.65,0.0],[1.7,-1.0],[1.9,1.2],[1.78,0.3],[1.95,-0.2],[2.02,1.0],[2.05,-0.5],
  [1.63,0.2],[1.67,0.4],[1.71,0.7],[1.75,0.1],[1.79,0.8],[1.83,0.5],[1.87,0.9],[1.91,0.4],[1.95,0.6],[1.69,-0.4],[1.77,-0.3],[1.85,-0.5],[1.81,1.3],[1.89,0.2],
  [1.64,0.7],[1.68,0.1],[1.72,0.45],[1.76,-0.1],[1.8,0.55],[1.84,0.05],[1.88,0.7],[1.92,0.2],[1.96,0.9],[1.74,1.0],[1.86,1.2],[1.9,-0.4],
  [2.12,1.25],[2.1,0.3],[2.15,-0.2],[2.2,0.4],[2.25,-0.6],[2.28,1.63],[2.3,0.1],[2.32,-0.4],[2.35,0.5],[2.38,2.65],[2.4,-1.3],[2.42,0.6],[2.44,2.03],[2.45,-3.25],[2.46,-0.7],[2.48,1.38],[2.47,1.0],[2.5,-1.1],[2.52,0.2],[2.55,-0.3],[2.59,-0.28],[2.59,-2.48],[2.57,0.1],[2.4,-1.4],[2.35,-1.5],[2.2,-0.3],[2.45,0.4],[2.52,-1.4],[2.3,-0.75],[2.0,-1.0],[1.98,-0.5]
];

// axis ticks and reference lines
const freeTicks = [0, 20, 40, 60, 80];
const freeObsTicks = [0, 20, 40, 60, 80, 100];
const boundTicks = [0, 1, 2, 3, 4];
const boundObsTicks = [0, 1, 2, 3, 4, 5];
const npdeTicks = [-4, -2, 0, 2, 4];
const boundPredTicks = [0, 0.5, 1, 1.5, 2, 2.5, 3];
const freeIdentity = [[-10, -10], [120, 120]];
const boundIdentity = [[-1, -1], [6, 6]];
const zeroLine = [[-100, 0], [100, 0]];

const FONT = "'Liberation Sans', Arial, sans-serif";

// R style axes: line only over the tick range, outward ticks, horizontal labels
const rAxes = {
  id: "rAxes",
  afterDraw(chart, args, o) {
    const { ctx, chartArea: a, scales: { x, y } } = chart;
    const snap = (v) => Math.round(v) + 0.5;
    ctx.save();
    ctx.strokeStyle = "#000";
    ctx.fillStyle = "#000";
    ctx.lineWidth = 1;

    const xs = o.xTicks.map((v) => snap(x.getPixelForValue(v)));
    const ys = o.yTicks.map((v) => snap(y.getPixelForValue(v)));
    const bx = snap(a.bottom);
    const lx = snap(a.left);
    ctx.beginPath();
    ctx.moveTo(xs[0], bx);
    ctx.lineTo(xs[xs.length - 1], bx);
    xs.forEach((px) => { ctx.moveTo(px, bx); ctx.lineTo(px, bx + 5); });
    ctx.moveTo(lx, ys[0]);
    ctx.lineTo(lx, ys[ys.length - 1]);
    ys.forEach((py) => { ctx.moveTo(lx, py); ctx.lineTo(lx - 6, py); });
    ctx.stroke();

    ctx.font = "9px " + FONT;
    ctx.textBaseline = "middle";
    ctx.textAlign = "center";
    o.xTicks.forEach((v, i) => ctx.fillText(o.xFmt(v), xs[i], o.xLabelY));
    ctx.textAlign = "right";
    o.yTicks.forEach((v, i) => ctx.fillText(String(v), a.left - 13, ys[i]));

    // axis titles
    ctx.font = "9.3px " + FONT;
    ctx.letterSpacing = "0.7px";
    ctx.textAlign = "center";
    ctx.fillText(o.xTitle, (a.left + a.right) / 2, o.xTitleY);
    ctx.translate(o.yTitleX, (a.top + a.bottom) / 2);
    ctx.rotate(-Math.PI / 2);
    ctx.fillText(o.yTitle, 0, 0);
    ctx.restore();
  },
};

const intFmt = (v) => String(v);
const oneDec = (v) => v.toFixed(1);

const panels = [
  { id: "p1", pts: freePredObs, ref: freeIdentity, xLim: [0, 80], yLim: [0, 100], xTicks: freeTicks, yTicks: freeObsTicks, xFmt: intFmt,
    area: { l: 59.2, r: 216.4, t: 10.5, b: 181.1 }, xLabelY: 202, xTitleY: 224, yTitleX: 16,
    xTitle: "PRED for free aflibercept (µg/mL)", yTitle: "Observed free aflibercept conc (µg/mL)" },
  { id: "p2", pts: freeIpredObs, ref: freeIdentity, xLim: [0, 80], yLim: [0, 100], xTicks: freeTicks, yTicks: freeObsTicks, xFmt: intFmt,
    area: { l: 295.5, r: 452.8, t: 10.5, b: 181.1 }, xLabelY: 202, xTitleY: 224.5, yTitleX: 251.7,
    xTitle: "IPRED for free aflibercept (µg/mL)", yTitle: "Observed free aflibercept conc (µg/mL)" },
  { id: "p3", pts: freePredNpde, ref: zeroLine, xLim: [0, 80], yLim: [-4, 4], xTicks: freeTicks, yTicks: npdeTicks, xFmt: intFmt,
    area: { l: 532.9, r: 690.5, t: 14.1, b: 180.9 }, xLabelY: 202, xTitleY: 225, yTitleX: 490,
    xTitle: "PRED for free aflibercept (µg/mL)", yTitle: "NPDE" },
  { id: "p4", pts: boundPredObs, ref: boundIdentity, xLim: [0, 4], yLim: [0, 5], xTicks: boundTicks, yTicks: boundObsTicks, xFmt: intFmt,
    area: { l: 58.4, r: 216.6, t: 290.1, b: 458.2 }, xLabelY: 478, xTitleY: 492.3, yTitleX: 16,
    xTitle: "PRED for bound aflibercept (µg.eq/mL)", yTitle: "Observed bound aflibercept conc (µg.eq/mL)" },
  { id: "p5", pts: boundIpredObs, ref: boundIdentity, xLim: [0, 4], yLim: [0, 5], xTicks: boundTicks, yTicks: boundObsTicks, xFmt: intFmt,
    area: { l: 295.5, r: 453.1, t: 290.0, b: 459.3 }, xLabelY: 478.5, xTitleY: 492.3, yTitleX: 253.7,
    xTitle: "IPRED for bound aflibercept (µg.eq/mL)", yTitle: "Observed bound aflibercept conc (µg.eq/mL)" },
  { id: "p6", pts: boundPredNpde, ref: zeroLine, xLim: [0, 3], yLim: [-4, 4], xTicks: boundPredTicks, yTicks: npdeTicks, xFmt: oneDec,
    area: { l: 532.9, r: 690.1, t: 290.1, b: 458.3 }, xLabelY: 478.3, xTitleY: 492.3, yTitleX: 490,
    xTitle: "PRED for bound aflibercept (µg.eq/mL)", yTitle: "NPDE" },
];

// R pads the axis limits by 4% on each side
function usr(lim) {
  const d = (lim[1] - lim[0]) * 0.04;
  return [lim[0] - d, lim[1] + d];
}

const toXY = (arr) => arr.map(([x, y]) => ({ x, y }));

panels.forEach((p) => {
  const [x0, x1] = usr(p.xLim);
  const [y0, y1] = usr(p.yLim);
  new Chart(document.getElementById(p.id).getContext("2d"), {
    type: "scatter",
    data: {
      datasets: [
        {
          type: "line",
          data: toXY(p.ref),
          borderColor: "#000",
          borderWidth: 1,
          pointRadius: 0,
          fill: false,
          clip: 0,
        },
        {
          data: toXY(p.pts),
          pointStyle: "circle",
          pointRadius: 2.1,
          pointBorderWidth: 1.1,
          borderColor: "#000",
          backgroundColor: "rgba(0,0,0,0)",
        },
      ],
    },
    options: {
      responsive: false,
      animation: false,
      events: [],
      layout: {
        padding: { left: p.area.l, top: p.area.t, right: 699 - p.area.r, bottom: 507 - p.area.b },
      },
      plugins: {
        legend: { display: false },
        tooltip: { enabled: false },
        rAxes: p,
      },
      scales: {
        x: { type: "linear", display: false, min: x0, max: x1 },
        y: { type: "linear", display: false, min: y0, max: y1 },
      },
    },
    plugins: [rAxes],
  });
});
</script>
</body>
</html>
